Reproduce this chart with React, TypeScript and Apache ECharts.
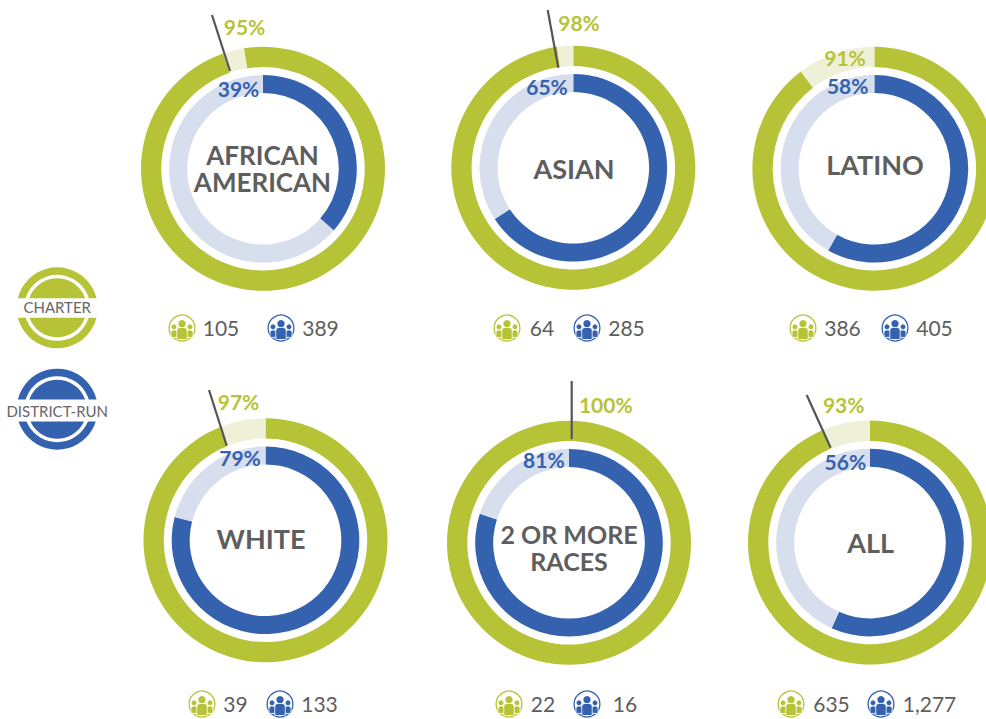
import React, { useEffect, useRef } from "react";
import * as echarts from "echarts";

// ---- data ----
const groups = ["AFRICAN\nAMERICAN", "ASIAN", "LATINO", "WHITE", "2 OR MORE\nRACES", "ALL"];
const charterLabels = ["95%", "98%", "91%", "97%", "100%", "93%"];
const districtLabels = ["39%", "65%", "58%", "79%", "81%", "56%"];
const charterCounts = ["105", "64", "386", "39", "22", "635"];
const districtCounts = ["389", "285", "405", "133", "16", "1,277"];
// shares as actually drawn on the rings
const charterDrawn = [97.2, 97.9, 89.7, 93.9, 100, 93.7];
const districtDrawn = [36.4, 65.8, 58.2, 79, 80, 56.7];

// ---- layout ----
const GREEN = "#B7C337";
const GREEN_PALE = "#EEF1D7";
const BLUE = "#3462AF";
const BLUE_PALE = "#D7DEEE";
const GRAY = "#5E5E5E";
const FONT = "Lato, 'Noto Sans', sans-serif";

const panels = [
  { cx: 263, cy: 168.8, rot: 9, ts: 26, line: [212, 15, 230, 71], g: [244.5, 26], b: [238.5, 88.5], t: [262.5, 168.5], i1: 182, n1: 221, i2: 281, n2: 320.5, iy: 328 },
  { cx: 573.3, cy: 167.8, rot: 0, ts: 27, line: [547.7, 10, 558.3, 67.7], g: [579, 22.5], b: [547, 86], t: [574, 168.7], i1: 507, n1: 542, i2: 587, n2: 626.5, iy: 328 },
  { cx: 874.4, cy: 168.8, rot: 0, ts: 27, line: null, g: [845, 57], b: [847.7, 85], t: [875, 164.8], i1: 803, n1: 842.5, i2: 895, n2: 934.5, iy: 328 },
  { cx: 265.5, cy: 540.3, rot: 0, ts: 27, line: [209, 390, 226.7, 445.7], g: [238.5, 401], b: [240, 457.5], t: [261, 538], i1: 202, n1: 235.5, i2: 280, n2: 319.5, iy: 704 },
  { cx: 569, cy: 542.8, rot: 0, ts: 25, line: [571.7, 381, 571.7, 439], g: [605.8, 404], b: [543.8, 459], t: [569, 547.5], i1: 509, n1: 543, i2: 587, n2: 625, iy: 704 },
  { cx: 870, cy: 542.6, rot: 0, ts: 27, line: [806.7, 395, 830.7, 447.7], g: [843.7, 404], b: [845.3, 461], t: [870.7, 542], i1: 791, n1: 831.5, i2: 881, n2: 929.5, iy: 704 },
];

function text(t: string, x: number, y: number, size: number, color: string, weight: any = 400, lineHeight?: number) {
  return {
    type: "text",
    x,
    y,
    z: 20,
    silent: true,
    style: { text: t, fontSize: size, fontFamily: FONT, fontWeight: weight, fill: color, align: "center", verticalAlign: "middle", lineHeight: lineHeight ?? size * 1.2 },
  };
}

function icon(cx: number, cy: number, color: string) {
  const fill = { fill: color };
  const bar = (dx: number, y0: number, w: number, h: number, r: number) => ({
    type: "rect",
    shape: { x: dx, y: y0, width: w, height: h, r: [r, r, 1, 1] },
    style: { fill: color, stroke: "#fff", lineWidth: 0.8 },
  });
  return {
    type: "group",
    x: cx,
    y: cy,
    z: 20,
    silent: true,
    children: [
      { type: "circle", shape: { cx: 0, cy: 0, r: 12.9 }, style: { fill: "#fff", stroke: color, lineWidth: 1.3 } },
      { type: "circle", shape: { cx: -8, cy: -1.2, r: 2.5 }, style: fill },
      { type: "circle", shape: { cx: 8, cy: -1.2, r: 2.5 }, style: fill },
      bar(-11, 2, 6.5, 7.4, 2.5),
      bar(4.5, 2, 6.5, 7.4, 2.5),
      { type: "circle", shape: { cx: 0, cy: -4.2, r: 3.7 }, style: fill },
      bar(-5.2, -0.5, 10.4, 12, 3),
    ],
  };
}

function badge(cx: number, cy: number, color: string, label: string, size: number, dy: number, bandTop: number, bandH: number) {
  return [
    { type: "ring", z: 10, silent: true, shape: { cx, cy, r: 40.5, r0: 33 }, style: { fill: color } },
    { type: "circle", z: 10, silent: true, shape: { cx, cy, r: 29.5 }, style: { fill: color } },
    { type: "rect", z: 11, silent: true, shape: { x: cx - 45, y: bandTop, width: 90, height: bandH }, style: { fill: "#fff" } },
    text(label, cx, cy + dy, size, "#666666", 400),
  ];
}

export default function App() {
  const ref = useRef<HTMLDivElement>(null);
  useEffect(() => {
    document.body.style.margin = "0";
    const chart = echarts.init(ref.current!, null, { renderer: "svg" });
    const series: any[] = [];
    const graphic: any[] = [];
    panels.forEach((p, i) => {
      const common = { type: "pie", center: [p.cx, p.cy], silent: true, label: { show: false }, labelLine: { show: false }, clockwise: true, stillShowZeroSum: true };
      series.push({
        ...common,
        name: "Charter " + groups[i],
        radius: [101.7, 122],
        startAngle: 90 + p.rot,
        data: [
          { value: charterDrawn[i], itemStyle: { color: GREEN } },
          { value: 100 - charterDrawn[i], itemStyle: { color: GREEN_PALE } },
        ],
      });
      series.push({
        ...common,
        name: "District-run " + groups[i],
        radius: [75.8, 93.8],
        startAngle: 90,
        data: [
          { value: districtDrawn[i], itemStyle: { color: BLUE } },
          { value: 100 - districtDrawn[i], itemStyle: { color: BLUE_PALE } },
        ],
      });
      if (p.line) {
        graphic.push({
          type: "line",
          z: 15,
          silent: true,
          shape: { x1: p.line[0], y1: p.line[1], x2: p.line[2], y2: p.line[3] },
          style: { stroke: "#555555", lineWidth: 2.2 },
        });
      }
      graphic.push(text(charterLabels[i], p.g[0], p.g[1], 21, GREEN, 700));
      graphic.push(text(districtLabels[i], p.b[0], p.b[1], 21, BLUE, 700));
      graphic.push(text(groups[i], p.t[0], p.t[1], p.ts, GRAY, 700, 27.5));
      graphic.push(icon(p.i1, p.iy, GREEN));
      graphic.push(icon(p.i2, p.iy, BLUE));
      graphic.push(text(charterCounts[i], p.n1, p.iy - 0.5, 21, GRAY));
      graphic.push(text(districtCounts[i], p.n2, p.iy - 0.5, 21, GRAY));
    });
    graphic.push(...badge(57.2, 307.8, GREEN, "CHARTER", 15, -0.8, 298.3, 19.4));
    graphic.push(...badge(57.2, 409.2, BLUE, "DISTRICT-RUN", 15, 1.8, 399.5, 22));
    chart.setOption({ animation: false, backgroundColor: "#ffffff", series, graphic });
    return () => chart.dispose();
  }, []);
  return <div ref={ref} style={{ width: 986, height: 719 }} />;
}
